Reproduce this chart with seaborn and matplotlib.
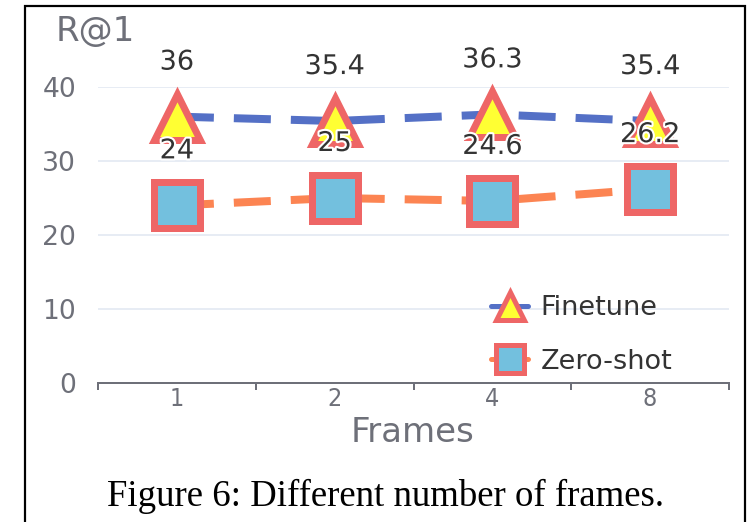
import matplotlib
matplotlib.use("Agg")
import matplotlib.pyplot as plt
import matplotlib.patheffects as pe
from matplotlib.patches import Rectangle
import seaborn as sns
import numpy as np
import pandas as pd

# ---- data ----
frames = ["1", "2", "4", "8"]
finetune = [36, 35.4, 36.3, 35.4]
zeroshot = [24, 25, 24.6, 26.2]
yticks = [0, 10, 20, 30, 40]

W, H = 748, 522
PT = 0.72  # px -> pt at dpi 100

sns.set_style("white")
plt.rcParams['font.family'] = ['DejaVu Sans']

fig = plt.figure(figsize=(W / 100, H / 100), dpi=100)
ax = fig.add_axes([98 / W, 1 - 383 / H, (729 - 98) / W, (383 - 87) / H])

x = np.arange(len(frames))
df = pd.DataFrame({"x": x, "Finetune": finetune, "Zero-shot": zeroshot})

lw = 8 * PT
dash = (0, (37 / 8, 20 / 8))
mew = 7 * PT
ms = 47 * PT

sns.lineplot(data=df, x="x", y="Zero-shot", ax=ax, color="#fc8452", linewidth=lw,
             linestyle=dash, marker="s", markersize=ms, markerfacecolor="#73c0de",
             markeredgecolor="#ee6666", markeredgewidth=mew, label="Zero-shot",
             clip_on=False, zorder=3, dash_capstyle="butt")
sns.lineplot(data=df, x="x", y="Finetune", ax=ax, color="#5470c6", linewidth=lw,
             linestyle=dash, marker="^", markersize=ms, markerfacecolor="#ffff33",
             markeredgecolor="#ee6666", markeredgewidth=mew, label="Finetune",
             clip_on=False, zorder=4, dash_capstyle="butt")

# value labels
halo = [pe.withStroke(linewidth=3, foreground="white")]
for xs, ys in ((x, finetune), (x, zeroshot)):
    for xi, yi in zip(xs, ys):
        ax.annotate(f"{yi:g}", (xi, yi), xytext=(0, 54 * PT), textcoords="offset points",
                    ha="center", va="center", fontsize=19.5, color="#333333",
                    path_effects=halo, zorder=10, annotation_clip=False)

ax.set_xlim(-0.5, len(frames) - 0.5)
ax.set_ylim(0, 40)
ax.set_yticks(yticks)
ax.set_yticklabels([str(v) for v in yticks])
ax.set_xticks(x)
ax.set_xticklabels(frames, fontstretch="condensed")
ax.set_xticks(np.arange(len(frames) + 1) - 0.5, minor=True)
ax.tick_params(axis="x", which="both", bottom=True)
ax.tick_params(axis="x", which="major", length=0, pad=3, labelsize=18, labelcolor="#6e7079")
ax.tick_params(axis="x", which="minor", length=7 * PT, width=2 * PT, color="#6e7079",
               direction="out")
ax.tick_params(axis="y", length=0, pad=22 * PT, labelsize=19.2, labelcolor="#6e7079")
ax.grid(axis="y", color="#e0e6f1", linewidth=1.5 * PT)
ax.set_axisbelow(True)
for s in ("left", "top", "right"):
    ax.spines[s].set_visible(False)
ax.spines["bottom"].set_color("#6e7079")
ax.spines["bottom"].set_linewidth(2 * PT)
ax.spines["bottom"].set_zorder(2)
ax.set_xlabel("")
ax.set_ylabel("")

fig.text(95 / W, 1 - 31 / H, "R@1", ha="center", va="center", fontsize=24.5, color="#6e7079")
fig.text(413 / W, 1 - 433 / H, "Frames", ha="center", va="center", fontsize=24.5, color="#6e7079")

# legend
handles, labels = ax.get_legend_handles_labels()
order = [labels.index("Finetune"), labels.index("Zero-shot")]
leg = ax.legend([handles[i] for i in order], [labels[i] for i in order],
                loc="center left", bbox_to_anchor=(467 / W, 1 - 335 / H),
                bbox_transform=fig.transFigure, frameon=False, fontsize=19.5,
                handlelength=1.37, handletextpad=0.45, labelspacing=1.0,
                labelcolor="#333333")
for h in leg.legend_handles:
    h.set_markersize(28 * PT)
    h.set_markeredgewidth(5 * PT)
    h.set_linewidth(5 * PT)
    h.set_linestyle("-")

# outer frame and caption
fig.add_artist(Rectangle((25 / W, -0.05), (745 - 25) / W, 1 - 6 / H + 0.05,
                         transform=fig.transFigure, fill=False, edgecolor="black",
                         linewidth=2.2 * PT, clip_on=False))
fig.text(386 / W, 1 - 496 / H, "Figure 6: Different number of frames.", ha="center",
         va="center", fontsize=26.5, family=["Liberation Serif", "DejaVu Serif"], color="black")

fig.savefig("out.png", dpi=100)
